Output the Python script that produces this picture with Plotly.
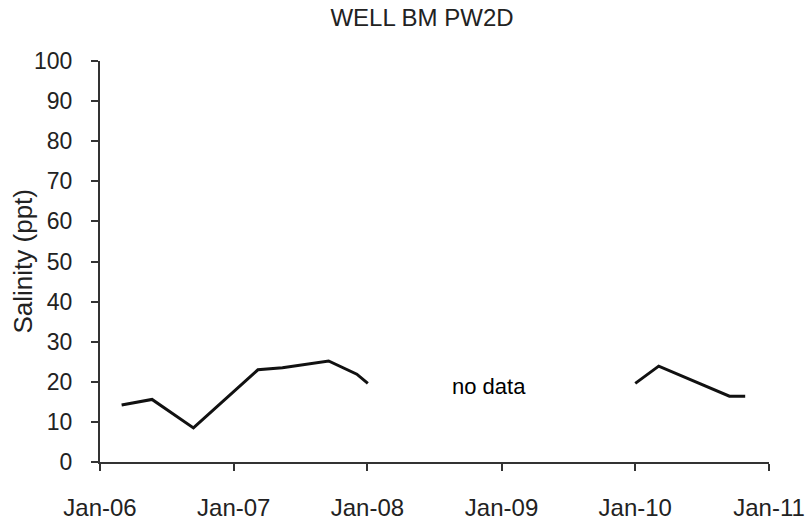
import plotly.graph_objects as go

# Salinity readings for well BM PW2D (None marks the period with no samples)
sample_dates = [
    "2006-03-01", "2006-05-23", "2006-09-13", "2007-03-08", "2007-05-14",
    "2007-09-17", "2007-12-03", "2008-01-02", None,
    "2010-01-01", "2010-03-06", "2010-09-15", "2010-10-28",
]
salinity_ppt = [
    14.2, 15.6, 8.5, 23.0, 23.5,
    25.2, 21.9, 19.6, None,
    19.6, 23.9, 16.4, 16.4,
]

tick_dates = ["2006-01-01", "2007-01-01", "2008-01-01", "2009-01-01", "2010-01-01", "2011-01-01"]
tick_labels = ["Jan-06", "Jan-07", "Jan-08", "Jan-09", "Jan-10", "Jan-11"]
y_ticks = list(range(0, 101, 10))

gap_note = "no data"
gap_note_date = "2008-11-28"
gap_note_value = 18.9

font_family = "Liberation Sans, Arial, sans-serif"
text_grey = "#222222"

fig = go.Figure()
fig.add_trace(go.Scatter(
    x=sample_dates,
    y=salinity_ppt,
    mode="lines",
    line=dict(color="#111111", width=3),
    connectgaps=False,
    showlegend=False,
))

fig.add_annotation(
    x=gap_note_date, y=gap_note_value, xref="x", yref="y",
    text=gap_note, showarrow=False,
    font=dict(family=font_family, size=22, color="#000000"),
)

# rotated y-axis title, placed in pixels left of the plot area
plot_left, plot_right = 100, 808 - 39
fig.add_annotation(
    x=(22 - plot_left) / (plot_right - plot_left), y=0.5,
    xref="paper", yref="paper",
    xanchor="center", yanchor="middle",
    text="Salinity (ppt)", textangle=-90, showarrow=False,
    font=dict(family=font_family, size=26, color=text_grey),
)

fig.update_layout(
    width=808, height=525,
    margin=dict(l=100, r=39, t=61, b=63),
    paper_bgcolor="white", plot_bgcolor="white",
    title=dict(
        text="WELL BM PW2D",
        x=422 / 808, xanchor="center", xref="container",
        y=1 - 18 / 525, yanchor="middle", yref="container",
        font=dict(family=font_family, size=24, color=text_grey),
    ),
)

fig.update_xaxes(
    type="date",
    range=["2006-01-01", "2011-01-01"],
    tickvals=tick_dates, ticktext=tick_labels,
    showgrid=False, zeroline=False, automargin=False,
    showline=True, linecolor="#333333", linewidth=2,
    ticks="outside", ticklen=7, tickwidth=1.5, tickcolor="#333333",
    tickfont=dict(family=font_family, size=24, color=text_grey),
    ticklabelstandoff=16,
)
fig.update_yaxes(
    range=[0, 100], tickvals=y_ticks,
    showgrid=False, zeroline=False, automargin=False,
    showline=True, linecolor="#333333", linewidth=2,
    ticks="outside", ticklen=7, tickwidth=1.5, tickcolor="#333333",
    tickfont=dict(family=font_family, size=23, color=text_grey),
    ticklabelstandoff=14,
)

fig.write_html("out.html")
